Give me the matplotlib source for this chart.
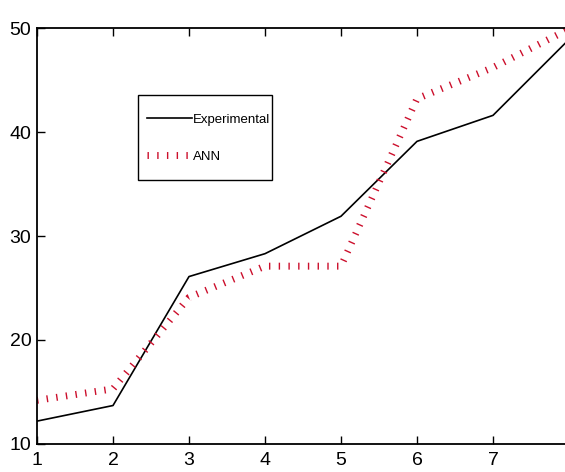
import matplotlib
matplotlib.use("Agg")
import matplotlib.pyplot as plt
from matplotlib.patches import Rectangle

x = [1, 2, 3, 4, 5, 6, 7, 8]
experimental = [12.2, 13.7, 26.1, 28.3, 31.9, 39.1, 41.6, 48.9]
ann = [14.2, 15.3, 24.1, 27.1, 27.1, 43.2, 46.2, 49.9]
xticks = [1, 2, 3, 4, 5, 6, 7]
yticks = [10, 20, 30, 40, 50]

plt.rcParams['font.family'] = ['Liberation Sans', 'DejaVu Sans']

fig = plt.figure(figsize=(5.65, 4.72), dpi=100)
ax = fig.add_axes([37/565, (472-444)/472, (569-37)/565, (444-28)/472])

ax.plot(x, experimental, color='black', lw=1.2, label='Experimental')
ax.plot(x, ann, color='#cc0f2c', lw=5, linestyle=(0, (0.2, 1.2)),
        dash_capstyle='butt', label='ANN')

ax.set_xlim(1, 8)
ax.set_ylim(10, 50)
ax.set_xticks(xticks)
ax.set_yticks(yticks)
ax.tick_params(direction='in', top=True, right=False, length=6, width=1,
               labelsize=14, pad=6)
ax.tick_params(axis='y', pad=4)
ax.spines['right'].set_visible(False)
for s in ax.spines.values():
    s.set_linewidth(1.3)

# legend frame drawn separately to match the reference box proportions
ax.add_patch(Rectangle((0.1898, 0.6346), 0.4417 - 0.1898, 0.839 - 0.6346,
                       transform=ax.transAxes, facecolor='white',
                       edgecolor='black', lw=1.0, zorder=4))
leg = ax.legend(loc='upper left', bbox_to_anchor=(0.2068, 0.795), fontsize=9.5,
                frameon=False, handlelength=3.4, handletextpad=0.1,
                borderpad=0, labelspacing=1.9, borderaxespad=0)
leg.set_zorder(5)

fig.savefig("out.png", dpi=100)
